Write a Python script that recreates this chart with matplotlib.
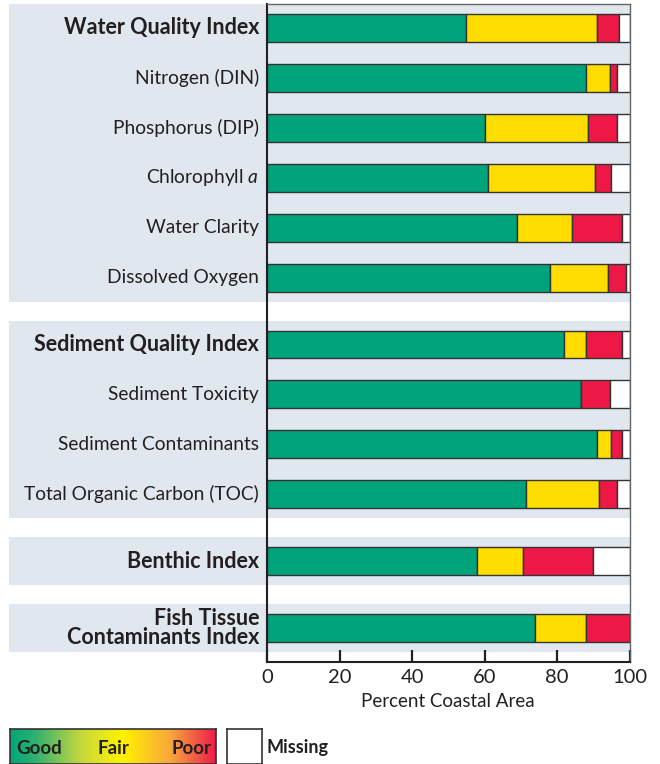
import matplotlib
matplotlib.use("Agg")
import matplotlib.pyplot as plt
import numpy as np
from matplotlib.patches import Rectangle
from matplotlib.colors import LinearSegmentedColormap

plt.rcParams['font.family'] = ['Lato', 'DejaVu Sans']
plt.rcParams['mathtext.fontset'] = 'custom'
plt.rcParams['mathtext.rm'] = 'Lato'
plt.rcParams['mathtext.it'] = 'Lato:italic'

# data (percent of coastal area)
labels = ["Water Quality Index", "Nitrogen (DIN)", "Phosphorus (DIP)", "Chlorophyll $a$",
          "Water Clarity", "Dissolved Oxygen",
          "Sediment Quality Index", "Sediment Toxicity", "Sediment Contaminants",
          "Total Organic Carbon (TOC)",
          "Benthic Index",
          "Fish Tissue\nContaminants Index"]
groups = [0, 0, 0, 0, 0, 0, 1, 1, 1, 1, 2, 3]
bold = [True, False, False, False, False, False, True, False, False, False, True, True]
good = [55, 88, 60, 61, 69, 78, 82, 86.5, 91, 71.5, 58, 74]
fair = [36, 6.5, 28.5, 29.5, 15, 16, 6, 0, 4, 20, 12.5, 14]
poor = [6, 2, 8, 4.5, 14, 5, 10, 8, 3, 5, 19.5, 12]
missing = [3, 3.5, 3.5, 5, 2, 1, 2, 5.5, 2, 3.5, 10, 0]

GREEN = "#00a47c"
YELLOW = "#ffdd00"
RED = "#ee1846"
BAND = "#e1e7ef"
EDGE = "#333333"
TXT = "#231f20"

fig = plt.figure(figsize=(6.6, 7.64), dpi=100)
ax = fig.add_axes([267 / 660, 1 - 662 / 764, 362.6 / 660, 658 / 764])

gap = 0.34
ypos = np.array([i + g * gap for i, g in enumerate(groups)])

# background bands per group
for g in sorted(set(groups)):
    ys = ypos[np.array(groups) == g]
    top = ys.min() - 0.48
    h = ys.max() - ys.min() + 0.96
    ax.add_patch(Rectangle((-0.712, top), 1.712, h, transform=ax.get_yaxis_transform(),
                           facecolor=BAND, edgecolor='none', clip_on=False, zorder=0))

left = np.zeros(len(good))
for vals, col in [(good, GREEN), (fair, YELLOW), (poor, RED), (missing, "white")]:
    v = np.array(vals, dtype=float)
    ax.barh(ypos, v, left=left, height=0.56, color=col, edgecolor=EDGE, linewidth=1.0, zorder=2)
    left += v

ax.set_xlim(0, 100)
ax.set_ylim(ypos.max() + 0.68, -0.48)
ax.set_yticks([])
ax.set_xticks([0, 20, 40, 60, 80, 100])
ax.tick_params(axis='x', direction='in', length=9, width=1.6, colors=TXT, labelsize=14.5, pad=5)
ax.set_xlabel("Percent Coastal Area", fontsize=13.5, color=TXT, labelpad=5)
ax.set_facecolor("none")

for side in ['left', 'bottom']:
    ax.spines[side].set_color(TXT)
    ax.spines[side].set_linewidth(1.5)
for side in ['right', 'top']:
    ax.spines[side].set_color("#666666")
    ax.spines[side].set_linewidth(1.0)

for y, lab, b in zip(ypos, labels, bold):
    ax.text(-0.022, y, lab, transform=ax.get_yaxis_transform(), ha='right', va='center',
            fontsize=15.5 if b else 13.8, color=TXT, fontweight='bold' if b else 'normal',
            linespacing=0.88)

# legend: gradient box + missing box
cmap = LinearSegmentedColormap.from_list(
    "gfp", [(0, "#00a878"), (0.12, "#2fb070"), (0.35, "#c9d93c"), (0.55, "#fff200"),
            (0.78, "#f9a63c"), (1.0, "#ed1c4a")])
lax = fig.add_axes([10 / 660, 0, 206 / 660, 35 / 764])
lax.imshow(np.linspace(0, 1, 256)[None, :], aspect='auto', cmap=cmap, extent=[0, 1, 0, 1])
lax.set_xticks([])
lax.set_yticks([])
for s in lax.spines.values():
    s.set_color(EDGE)
    s.set_linewidth(1.2)
for x, t in [(0.14, "Good"), (0.5, "Fair"), (0.88, "Poor")]:
    lax.text(x, 0.45, t, ha='center', va='center', fontsize=13.5, fontweight='bold', color=TXT)

max_ = fig.add_axes([227 / 660, 0, 35 / 660, 35 / 764])
max_.set_xticks([])
max_.set_yticks([])
for s in max_.spines.values():
    s.set_color(EDGE)
    s.set_linewidth(1.2)
fig.text(267 / 660, 17 / 764, "Missing", ha='left', va='center', fontsize=13,
         fontweight='bold', color=TXT)

fig.savefig("out.png", dpi=100)
